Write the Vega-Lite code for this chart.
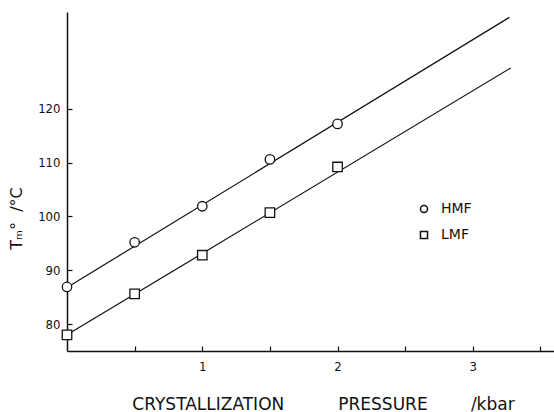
{
  "$schema": "https://vega.github.io/schema/vega-lite/v6.json",
  "width": 487,
  "height": 339,
  "autosize": "none",
  "padding": {"left": 67, "top": 12, "right": 0, "bottom": 61},
  "background": "white",
  "config": {
    "view": {"stroke": null},
    "axis": {
      "grid": false,
      "domainColor": "#111",
      "domainWidth": 1.5,
      "tickColor": "#111",
      "tickWidth": 1.2,
      "tickSize": -5,
      "labelColor": "#111",
      "labelFont": "DejaVu Sans Condensed",
      "labelFontSize": 13,
      "titleColor": "#111",
      "titleFont": "DejaVu Sans",
      "titleFontWeight": "normal",
      "titleFontSize": 17
    }
  },
  "datasets": {
    "measured": [
      {"series": "HMF", "p": 0, "t": 86.9},
      {"series": "HMF", "p": 0.5, "t": 95.2},
      {"series": "HMF", "p": 1, "t": 101.9},
      {"series": "HMF", "p": 1.5, "t": 110.6},
      {"series": "HMF", "p": 2, "t": 117.2},
      {"series": "LMF", "p": 0, "t": 78.0},
      {"series": "LMF", "p": 0.5, "t": 85.6},
      {"series": "LMF", "p": 1, "t": 92.8},
      {"series": "LMF", "p": 1.5, "t": 100.7},
      {"series": "LMF", "p": 2, "t": 109.2}
    ],
    "fits": [
      {"series": "HMF", "p": 0, "t": 86.8},
      {"series": "HMF", "p": 3.27, "t": 137.0},
      {"series": "LMF", "p": 0, "t": 78.0},
      {"series": "LMF", "p": 3.28, "t": 127.6}
    ]
  },
  "layer": [
    {
      "data": {"name": "fits"},
      "mark": {"type": "line", "color": "#111", "strokeWidth": 1.2},
      "encoding": {
        "x": {
          "field": "p",
          "type": "quantitative",
          "scale": {"domain": [0, 3.6], "nice": false, "zero": false},
          "axis": {
            "values": [0.5, 1, 1.5, 2, 2.5, 3, 3.5],
            "labelExpr": "datum.value % 1 === 0 ? format(datum.value, 'd') : ''",
            "labelPadding": 14,
            "title": "CRYSTALLIZATION\u00a0\u00a0\u00a0\u00a0\u00a0\u00a0\u00a0\u00a0\u00a0\u00a0PRESSURE\u00a0\u00a0\u00a0\u00a0\u00a0\u00a0\u00a0\u00a0/kbar",
            "titleX": 256,
            "titleY": 53,
            "titleAlign": "center",
            "titleBaseline": "middle"
          }
        },
        "y": {
          "field": "t",
          "type": "quantitative",
          "scale": {"domain": [75, 138], "nice": false, "zero": false},
          "axis": {
            "values": [80, 90, 100, 110, 120],
            "labelPadding": 12,
            "title": "Tₘ°\u00a0\u00a0/°C",
            "titleFontSize": 16,
            "titleAngle": 270,
            "titleX": -51,
            "titleY": 206,
            "titleAlign": "center",
            "titleBaseline": "middle"
          }
        },
        "detail": {"field": "series", "type": "nominal"}
      }
    },
    {
      "data": {"name": "measured"},
      "mark": {
        "type": "point",
        "filled": true,
        "fill": "white",
        "stroke": "#111",
        "strokeWidth": 1.3,
        "size": 90,
        "opacity": 1
      },
      "encoding": {
        "x": {"field": "p", "type": "quantitative"},
        "y": {"field": "t", "type": "quantitative"},
        "shape": {
          "field": "series",
          "type": "nominal",
          "scale": {"domain": ["HMF", "LMF"], "range": ["circle", "square"]},
          "legend": {
            "title": null,
            "orient": "none",
            "legendX": 350,
            "legendY": 190,
            "padding": 0,
            "rowPadding": 12,
            "symbolSize": 50,
            "labelFont": "DejaVu Sans",
            "labelFontSize": 14,
            "labelColor": "#111",
            "labelOffset": 10,
            "encode": {
              "symbols": {
                "update": {
                  "fill": {"value": "white"},
                  "stroke": {"value": "#111"},
                  "strokeWidth": {"value": 1.2},
                  "opacity": {"value": 1}
                }
              }
            }
          }
        }
      }
    }
  ]
}
